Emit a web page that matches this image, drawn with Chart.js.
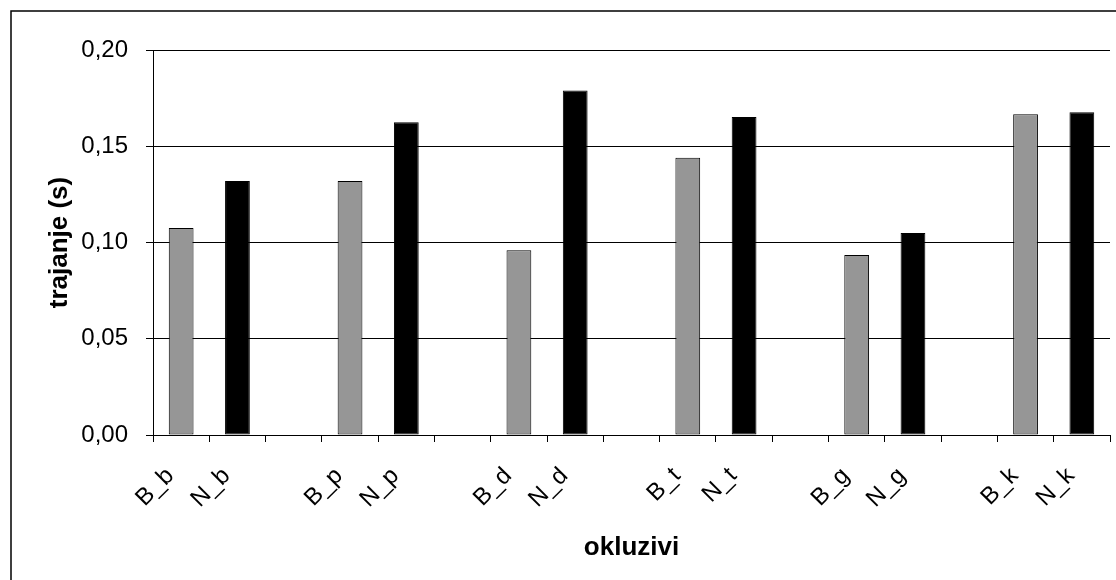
<!DOCTYPE html>
<html>
<head>
<meta charset="utf-8">
<script src="https://cdn.jsdelivr.net/npm/chart.js@4/dist/chart.umd.min.js"></script>
<style>
  html, body { margin: 0; padding: 0; background: #fff; }
  #wrap { position: relative; width: 1116px; height: 580px; }
</style>
</head>
<body>
<div id="wrap"><canvas id="chart"></canvas></div>
<script>
// categories, with empty slots between pairs like in the original sheet
const categories = ['B_b', 'N_b', '', 'B_p', 'N_p', '', 'B_d', 'N_d', '', 'B_t', 'N_t', '', 'B_g', 'N_g', '', 'B_k', 'N_k']
const seriesB = [0.1075, null, null, 0.132, null, null, 0.096, null, null, 0.144, null, null, 0.0935, null, null, 0.1666, null]
const seriesN = [null, 0.132, null, null, 0.1625, null, null, 0.179, null, null, 0.1652, null, null, 0.1049, null, null, 0.1676]
const yTicks = [0, 0.05, 0.10, 0.15, 0.20]

const FONT = 'Arial, "Liberation Sans", sans-serif'

// outer frame of the chart (only left/top visible, rest is cut off)
const framePlugin = {
    id: 'frame',
    afterDraw(chart) {
        const ctx = chart.ctx
        ctx.save()
        ctx.strokeStyle = '#000'
        ctx.lineWidth = 1.5
        ctx.strokeRect(11, 11, 1200, 700)
        ctx.restore()
    }
}

const ctx = document.getElementById('chart').getContext('2d')
new Chart(ctx, {
    type: 'bar',
    data: {
        labels: categories,
        datasets: [{
            label: 'B',
            data: seriesB,
            backgroundColor: '#969696',
            borderColor: '#000',
            borderWidth: 1,
            borderSkipped: false,
            grouped: false,
            barPercentage: 0.44,
            categoryPercentage: 1
        }, {
            label: 'N',
            data: seriesN,
            backgroundColor: '#000',
            borderColor: '#000',
            borderWidth: 1,
            borderSkipped: false,
            grouped: false,
            barPercentage: 0.44,
            categoryPercentage: 1
        }]
    },
    options: {
        responsive: true,
        maintainAspectRatio: false,
        animation: false,
        layout: { padding: { left: 0, top: 50, right: 6, bottom: 0 } },
        plugins: {
            legend: { display: false },
            tooltip: { enabled: false }
        },
        scales: {
            x: {
                grid: {
                    display: true,
                    offset: true,
                    drawOnChartArea: false,
                    drawTicks: true,
                    tickLength: 7,
                    color: '#000',
                    lineWidth: 1
                },
                border: { display: true, color: '#000', width: 1 },
                ticks: {
                    color: '#000',
                    font: { family: FONT, size: 24 },
                    minRotation: 45,
                    maxRotation: 45,
                    autoSkip: false,
                    padding: 20,
                    labelOffset: -11
                },
                title: {
                    display: true,
                    text: 'okluzivi',
                    color: '#000',
                    font: { family: FONT, size: 26, weight: 'bold' },
                    padding: { top: 0, bottom: 17 }
                },
                afterFit(scale) {
                    scale.height = 145
                    scale.paddingLeft = 0
                    scale.paddingRight = 0
                }
            },
            y: {
                min: 0,
                max: 0.2,
                afterBuildTicks(scale) { scale.ticks = yTicks.map(v => ({ value: v })) },
                grid: {
                    color: '#000',
                    lineWidth: 1,
                    tickLength: 7
                },
                border: { display: true, color: '#000', width: 1 },
                ticks: {
                    color: '#000',
                    font: { family: FONT, size: 24 },
                    padding: 18,
                    callback: v => v.toFixed(2).replace('.', ',')
                },
                title: {
                    display: true,
                    text: 'trajanje (s)',
                    color: '#000',
                    font: { family: FONT, size: 26, weight: 'bold' },
                    padding: { top: 44, bottom: 0 }
                },
                afterFit(scale) { scale.width = 153 }
            }
        }
    },
    plugins: [framePlugin]
})
</script>
</body>
</html>
